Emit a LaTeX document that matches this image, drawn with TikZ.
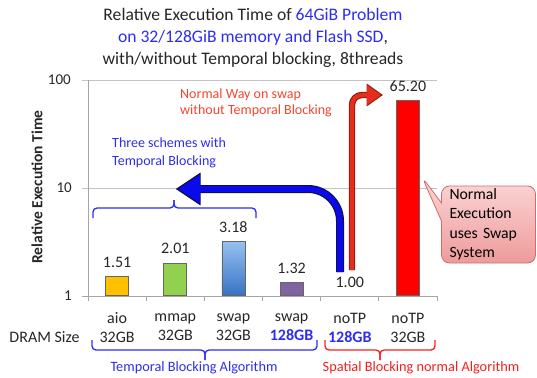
\documentclass[tikz,border=0pt]{standalone}
\usepackage{fontspec}
\setmainfont{Carlito}
\usetikzlibrary{positioning,arrows.meta,shapes.callouts}

\definecolor{tblue}{RGB}{45,45,240}
\definecolor{tred}{RGB}{245,30,30}
\definecolor{torange}{RGB}{245,70,45}
\definecolor{gridc}{RGB}{195,195,195}
\definecolor{axisc}{RGB}{165,165,165}
\definecolor{baraio}{RGB}{255,192,0}
\definecolor{barmmap}{RGB}{146,208,80}
\definecolor{barswapt}{RGB}{150,192,242}
\definecolor{barswapb}{RGB}{55,115,195}
\definecolor{barswapp}{RGB}{128,100,162}
\definecolor{barnotp}{RGB}{255,0,0}
\definecolor{bullet}{RGB}{252,215,215}
\definecolor{bulleb}{RGB}{238,155,155}
\definecolor{bulled}{RGB}{215,105,105}
\definecolor{flecheb}{RGB}{10,10,235}
\definecolor{flechebd}{RGB}{15,15,80}
\definecolor{flecher}{RGB}{230,45,30}
\definecolor{flecherd}{RGB}{140,30,20}

\tikzset{barre/.style = {draw=black!60, line width=0.7pt, minimum width=23pt,
                         inner sep=0pt, anchor=south},
         valeur/.style = {font=\fontsize{16}{18}\selectfont, inner sep=0pt, text=black!85},
         categ/.style = {align=center, font=\fontsize{16}{19}\selectfont, inner sep=0pt, text=black!85},
         graduation/.style = {anchor=east, font=\fontsize{15}{16}\selectfont, inner sep=0pt, text=black!85},
         accol/.style = {line width=1.3pt, rounded corners=4pt},
         note/.style = {align=left, anchor=west, inner sep=0pt, font=\fontsize{14}{17.5}\selectfont},
         bulle/.style = {rectangle callout, rounded corners=8pt, draw=bulled, line width=0.8pt,
                         top color=bullet, bottom color=bulleb, align=left, text width=78pt,
                         inner xsep=8pt, inner ysep=2pt, minimum height=77pt,
                         callout pointer width=18pt, font=\fontsize{15.7}{19.5}\selectfont}
        }

\begin{document}
\begin{tikzpicture}[x=1pt,y=-1pt]
\useasboundingbox (0,0) rectangle (537,377);
% titre
\node[align=center, inner sep=0pt, text=black!85, font=\fontsize{17.6}{22}\selectfont] (titre) at (253,38)
  {Relative Execution Time of \textcolor{tblue}{64GiB Problem}\\
   \textcolor{tblue}{on 32/128GiB memory and Flash SSD},\\
   with/without Temporal blocking, 8threads};
% grille et axes
\draw[gridc, line width=0.8pt] (82,80) -- (437,80);
\draw[gridc, line width=0.8pt] (82,188) -- (437,188);
\draw[axisc, line width=0.8pt] (88,80) -- (88,301);
\draw[axisc, line width=0.8pt] (82,296) -- (437,296);
\draw[axisc, line width=0.8pt] (146.2,296) -- (146.2,301);
\draw[axisc, line width=0.8pt] (204.3,296) -- (204.3,301);
\draw[axisc, line width=0.8pt] (262.5,296) -- (262.5,301);
\draw[axisc, line width=0.8pt] (320.7,296) -- (320.7,301);
\draw[axisc, line width=0.8pt] (378.8,296) -- (378.8,301);
\draw[axisc, line width=0.8pt] (437,296) -- (437,301);
\node[graduation] (g100) at (71,80) {100};
\node[graduation] (g10) at (72,188) {10};
\node[graduation] (g1) at (72,296) {1};
\node[rotate=90, inner sep=0pt, text=black!85, font=\bfseries\fontsize{15.5}{16}\selectfont] (ytitre) at (37,187) {Relative Execution Time};
% barres
\node[barre, fill=baraio, minimum height=19.3pt] at (117.1,296) (baio) {};
\node[barre, fill=barmmap, minimum height=32.7pt] at (175.3,296) (bmmap) {};
\node[barre, top color=barswapt, bottom color=barswapb, minimum height=54.1pt] at (233.4,296) (bswap) {};
\node[barre, fill=barswapp, minimum height=13pt] at (291.6,296) (bswapg) {};
\coordinate (bnotpg) at (349.8,296);
\node[barre, fill=barnotp, minimum height=195.4pt] at (407.9,296) (bnotp) {};
\node[valeur, above=8.5pt of baio] (vaio) {1.51};
\node[valeur, above=8.5pt of bmmap] (vmmap) {2.01};
\node[valeur, above=8.5pt of bswap] (vswap) {3.18};
\node[valeur, above=8.5pt of bswapg] (vswapg) {1.32};
\node[valeur, above=8pt of bnotpg] (vnotpg) {1.00};
\node[valeur, above=8.5pt of bnotp] (vnotp) {65.20};
% categories
\node[categ] (caio) at (117.1,327.5) {aio\\32GB};
\node[categ] (cmmap) at (175.3,327.5) {mmap\\32GB};
\node[categ] (cswap) at (233.4,327.5) {swap\\32GB};
\node[categ] (cswapg) at (291.6,327.5) {swap\\\textcolor{tblue}{\textbf{128GB}}};
\node[categ] (cnotpg) at (349.8,327.5) {noTP\\\textcolor{tblue}{\textbf{128GB}}};
\node[categ] (cnotp) at (407.9,327.5) {noTP\\32GB};
\node[categ] (dram) at (44.5,337) {DRAM Size};
% accolades
\draw[accol, tblue] (93,218) -- (93,208) -- (174,208) -- (174,200);
\draw[accol, tblue] (256,218) -- (256,208) -- (174,208) -- (174,200);
\draw[accol, tblue] (92,340) -- (92,350) -- (205,350) -- (205,360);
\draw[accol, tblue] (317,340) -- (317,350) -- (205,350) -- (205,360);
\draw[accol, tred] (325,340) -- (325,350) -- (380,350) -- (380,360);
\draw[accol, tred] (435,340) -- (435,350) -- (380,350) -- (380,360);
\node[inner sep=0pt, text=tblue, font=\fontsize{14.3}{16}\selectfont] (ltemp) at (194,368) {Temporal Blocking Algorithm};
\node[inner sep=0pt, text=tred, font=\fontsize{14.3}{16}\selectfont] (lspat) at (421,368) {Spatial Blocking normal Algorithm};
% notes
\node[note, text=tblue] (trois) at (112,153) {Three schemes with\\Temporal Blocking};
\node[note, text=torange, font=\fontsize{14}{16}\selectfont] (normal) at (180,103) {Normal Way on swap\\without Temporal Blocking};
% fleches
\coordinate (bdep) at (340,272);
\coordinate (bfin) at (178,189);
\coordinate (bfinb) at (175.5,189);
\draw[flechebd, line width=8pt, rounded corners=32pt, -{Triangle[length=25pt,width=31pt]}] (bdep) |- (bfinb);
\draw[flecheb, line width=5.6pt, rounded corners=32pt, -{Triangle[length=22pt,width=27pt]}] (bdep) |- (bfin);
\coordinate (rdep) at (352,270);
\coordinate (rfin) at (381,95);
\coordinate (rfinb) at (383,95);
\draw[flecherd, line width=6.4pt, rounded corners=10pt, -{Triangle[length=16.5pt,width=22pt]}] (rdep) |- (rfinb);
\draw[flecher, line width=4.2pt, rounded corners=10pt, -{Triangle[length=14pt,width=19pt]}] (rdep) |- (rfin);
% bulle
\coordinate (pointe) at (422,177);
\node[bulle, callout absolute pointer={(pointe)}] (bulle1) at (488.5,224.5) {Normal\\Execution\\uses Swap\\System};
\end{tikzpicture}
\end{document}
